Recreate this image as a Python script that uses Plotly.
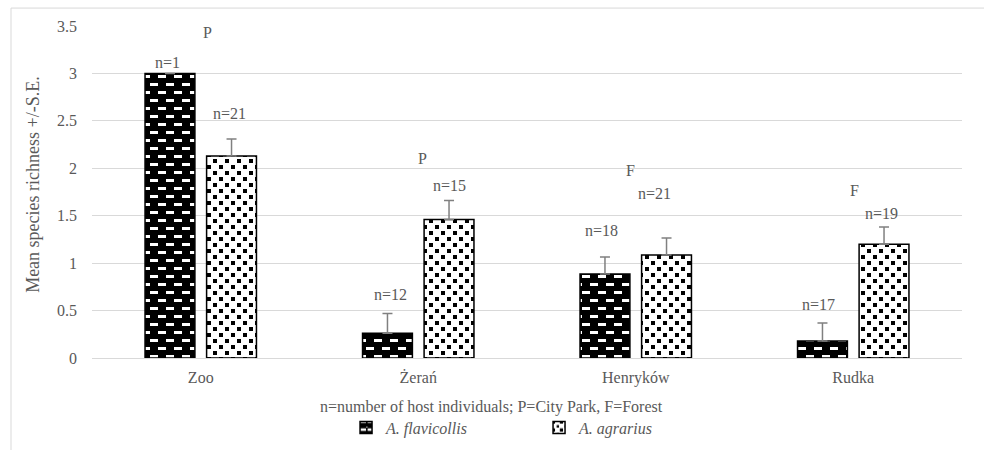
import plotly.graph_objects as go

# ---- data ----
categories = ["Zoo", "Żerań", "Henryków", "Rudka"]
flav_mean = [3.0, 0.26, 0.885, 0.18]
flav_se = [None, 0.21, 0.18, 0.19]
agr_mean = [2.13, 1.46, 1.085, 1.20]
agr_se = [0.18, 0.20, 0.18, 0.18]
flav_n = ["n=1", "n=12", "n=18", "n=17"]
agr_n = ["n=21", "n=15", "n=21", "n=19"]
habitat = ["P", "P", "F", "F"]
series_names = ["<i>A. flavicollis</i>", "<i>A. agrarius</i>"]
y_ticks = [0, 0.5, 1, 1.5, 2, 2.5, 3, 3.5]

GRAY = "#595959"
FONT = "Liberation Serif, Times New Roman, serif"

# custom tile patterns
brick_path = "M2,1H10V4H2Z M10,9H16V12H10Z M0,9H2V12H0Z"
check_path = "M1,1H5V5H1Z M7,7H11V11H7Z"

fig = go.Figure()
fig.add_trace(go.Bar(
    x=categories, y=flav_mean, name=series_names[0],
    marker=dict(color="black", line=dict(color="black", width=1.5),
                pattern=dict(path=brick_path, size=16, bgcolor="black", fgcolor="white", fgopacity=1)),
    error_y=dict(type="data", symmetric=False, array=flav_se,
                 arrayminus=[0 if v is not None else None for v in flav_se],
                 color="#808080", thickness=1.5, width=5),
))
fig.add_trace(go.Bar(
    x=categories, y=agr_mean, name=series_names[1],
    marker=dict(color="white", line=dict(color="black", width=1.5),
                pattern=dict(path=check_path, size=12, bgcolor="white", fgcolor="black", fgopacity=1)),
    error_y=dict(type="data", symmetric=False, array=agr_se,
                 arrayminus=[0] * len(agr_se),
                 color="#808080", thickness=1.5, width=5),
))

# label annotations (offsets in pixels relative to category centre)
n_flav_pos = [(-33, 3.11), (-28, 0.674), (-34, 1.349), (-35, 0.569)]
hab_pos = [(7, 3.435), (4, 2.107), (-5, 1.981), (1, 1.77)]
n_agr_pos = [(29, 2.58), (31, 1.823), (19, 1.739), (28, 1.528)]

annotations = []
for i, cat in enumerate(categories):
    for txt, (dx, yy) in ((flav_n[i], n_flav_pos[i]), (habitat[i], hab_pos[i]), (agr_n[i], n_agr_pos[i])):
        annotations.append(dict(x=cat, y=yy, xref="x", yref="y", text=txt, showarrow=False,
                                xshift=dx, font=dict(family=FONT, size=16, color=GRAY)))

annotations.append(dict(x=-0.068, y=0.524, xref="paper", yref="paper", textangle=-90,
                        xanchor="center", yanchor="middle",
                        text="Mean species richness +/-S.E.", showarrow=False,
                        font=dict(family=FONT, size=18, color=GRAY)))
annotations.append(dict(x=0.459, y=-0.148, xref="paper", yref="paper",
                        xanchor="center", yanchor="middle",
                        text="n=number of host individuals; P=City Park, F=Forest", showarrow=False,
                        font=dict(family=FONT, size=16, color=GRAY)))

fig.update_layout(
    width=984, height=450,
    margin=dict(l=92, r=22, t=26, b=92, autoexpand=False),
    paper_bgcolor="white", plot_bgcolor="white",
    barmode="group", bargap=0.434, bargroupgap=0.19,
    font=dict(family=FONT, size=16, color=GRAY),
    annotations=annotations,
    showlegend=True,
    legend=dict(orientation="h", x=0.292, xanchor="left", y=-0.21, yanchor="middle",
                entrywidth=148, entrywidthmode="pixels", itemwidth=30,
                font=dict(family=FONT, size=16, color=GRAY), bgcolor="rgba(0,0,0,0)"),
    shapes=[dict(type="rect", xref="paper", yref="paper", x0=-0.0931, x1=1.05, y0=-0.35, y1=1.054,
                 line=dict(color="#d9d9d9", width=1), fillcolor="rgba(0,0,0,0)", layer="below")],
)
fig.update_xaxes(showline=True, linecolor="#d9d9d9", linewidth=1, ticks="",
                 ticklabelstandoff=5,
                 tickfont=dict(family=FONT, size=16, color=GRAY))
fig.update_yaxes(range=[0, 3.5], tickvals=y_ticks, ticktext=[f"{v:g}" for v in y_ticks],
                 showgrid=True, gridcolor="#d9d9d9", gridwidth=1, zeroline=False,
                 ticklabelstandoff=14,
                 tickfont=dict(family=FONT, size=16, color=GRAY))

fig.write_html("out.html")
